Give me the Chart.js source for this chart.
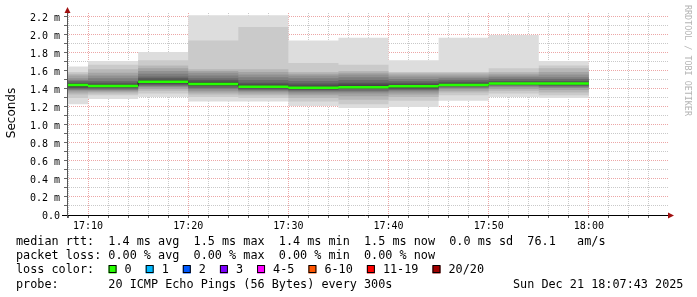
<!DOCTYPE html>
<html>
<head>
<title>SmokePing</title>
<script src="https://cdn.jsdelivr.net/npm/chart.js"></script>
<style>
  html, body { margin: 0; padding: 0; background: #fff; }
  #wrap { width: 697px; height: 297px; position: relative; }
</style>
</head>
<body>
<div id="wrap"><canvas id="smokeChart"></canvas></div>
<script>
// time axis in minutes after 17:00, one slot every 300s
const slotStarts = [5, 10, 15, 20, 25, 30, 35, 40, 45, 50, 55];
const slotLength = 5;
const medianRtt = [1.445, 1.433, 1.48, 1.455, 1.425, 1.415, 1.42, 1.43, 1.445, 1.46, 1.46];

// 20 sorted ping rtts (ms) per slot
const pings1705 = [1.23, 1.30, 1.34, 1.36, 1.38, 1.39, 1.40, 1.41, 1.42, 1.44, 1.45, 1.46, 1.47, 1.49, 1.50, 1.52, 1.55, 1.57, 1.59, 1.65];
const pings1710 = [1.29, 1.33, 1.35, 1.37, 1.38, 1.39, 1.40, 1.41, 1.42, 1.43, 1.44, 1.45, 1.47, 1.49, 1.52, 1.55, 1.58, 1.62, 1.67, 1.71];
const pings1715 = [1.31, 1.35, 1.38, 1.40, 1.42, 1.43, 1.44, 1.45, 1.46, 1.47, 1.49, 1.50, 1.52, 1.54, 1.57, 1.60, 1.63, 1.66, 1.72, 1.81];
const pings1720 = [1.26, 1.31, 1.34, 1.36, 1.38, 1.40, 1.41, 1.43, 1.44, 1.45, 1.46, 1.48, 1.50, 1.52, 1.55, 1.58, 1.60, 1.62, 1.94, 2.22];
const pings1725 = [1.26, 1.30, 1.33, 1.35, 1.37, 1.38, 1.39, 1.40, 1.41, 1.42, 1.43, 1.45, 1.47, 1.50, 1.53, 1.56, 1.59, 1.62, 2.09, 2.22];
const pings1730 = [1.21, 1.26, 1.30, 1.33, 1.35, 1.37, 1.38, 1.39, 1.40, 1.41, 1.42, 1.44, 1.46, 1.49, 1.52, 1.55, 1.57, 1.59, 1.69, 1.94];
const pings1735 = [1.19, 1.23, 1.28, 1.32, 1.35, 1.37, 1.38, 1.40, 1.41, 1.42, 1.43, 1.45, 1.47, 1.50, 1.53, 1.56, 1.58, 1.60, 1.67, 1.97];
const pings1740 = [1.20, 1.27, 1.31, 1.34, 1.36, 1.38, 1.39, 1.40, 1.41, 1.42, 1.44, 1.45, 1.47, 1.49, 1.51, 1.54, 1.56, 1.58, 1.59, 1.72];
const pings1745 = [1.27, 1.33, 1.36, 1.38, 1.40, 1.41, 1.42, 1.43, 1.44, 1.44, 1.45, 1.46, 1.48, 1.50, 1.52, 1.54, 1.56, 1.58, 1.59, 1.97];
const pings1750 = [1.31, 1.35, 1.38, 1.40, 1.42, 1.43, 1.44, 1.45, 1.45, 1.46, 1.46, 1.47, 1.49, 1.51, 1.53, 1.55, 1.57, 1.59, 1.63, 2.00];
const pings1755 = [1.30, 1.33, 1.36, 1.39, 1.41, 1.42, 1.43, 1.44, 1.45, 1.46, 1.46, 1.47, 1.49, 1.51, 1.53, 1.56, 1.59, 1.63, 1.66, 1.71];

const xLabelMinutes = [10, 20, 30, 40, 50, 60];
const xTickLabels = ['17:10', '17:20', '17:30', '17:40', '17:50', '18:00'];
const yTickLabels = ['0.0', '0.2 m', '0.4 m', '0.6 m', '0.8 m', '1.0 m', '1.2 m', '1.4 m', '1.6 m', '1.8 m', '2.0 m', '2.2 m'];

const lossLabels = ['0', '1', '2', '3', '4-5', '6-10', '11-19', '20/20'];
const lossColors = ['#26ff00', '#00b8ff', '#0059ff', '#7e00ff', '#ff00ff', '#ff5500', '#ff0000', '#a00000'];

const legendLines = [
  'median rtt:  1.4 ms avg  1.5 ms max  1.4 ms min  1.5 ms now  0.0 ms sd  76.1   am/s',
  'packet loss: 0.00 % avg  0.00 % max  0.00 % min  0.00 % now',
  'loss color:',
  'probe:       20 ICMP Echo Pings (56 Bytes) every 300s'
];
const stampText = 'Sun Dec 21 18:07:43 2025';

const allPings = [pings1705, pings1710, pings1715, pings1720, pings1725, pings1730,
                  pings1735, pings1740, pings1745, pings1750, pings1755];

// each value holds from its slot start to the next one
function stepData(vals) {
  const pts = slotStarts.map((t, i) => ({ x: t, y: vals[i] }));
  pts.push({ x: slotStarts[slotStarts.length - 1] + slotLength, y: vals[vals.length - 1] });
  return pts;
}

const datasets = [];
// smoke bands, same shading as smokeping: outer pairs light, inner pairs dark
for (let b = 1; b <= 10; b++) {
  const g = Math.floor(190 / 10 * (10 - b)) + 50;
  const col = 'rgb(' + g + ',' + g + ',' + g + ')';
  datasets.push({
    data: stepData(allPings.map(p => p[b - 1])),
    stepped: 'before', borderColor: 'rgba(0,0,0,0)', backgroundColor: 'rgba(0,0,0,0)',
    borderWidth: 0, pointRadius: 0, fill: false, order: 100 - b
  });
  datasets.push({
    data: stepData(allPings.map(p => p[20 - b])),
    stepped: 'before', borderColor: 'rgba(0,0,0,0)', backgroundColor: col,
    borderWidth: 0, pointRadius: 0, fill: '-1', order: 100 - b
  });
}

datasets.push({
  data: stepData(medianRtt), stepped: 'before',
  borderColor: '#202020', borderWidth: 1, pointRadius: 0, fill: false, order: 2
});

const medianSegs = [];
slotStarts.forEach((t, i) => {
  medianSegs.push({ x: t, y: medianRtt[i] }, { x: t + slotLength, y: medianRtt[i] }, { x: t + slotLength, y: null });
});
datasets.push({
  data: medianSegs, borderColor: lossColors[0], borderWidth: 2.5,
  pointRadius: 0, fill: false, spanGaps: false, order: 1
});

const majorGrid = 'rgba(200,0,0,0.35)';
const minorGrid = 'rgba(120,120,120,0.4)';

const decorations = {
  id: 'decorations',
  afterDraw(chart) {
    const ctx = chart.ctx;
    const a = chart.chartArea;
    ctx.save();

    // axes
    ctx.strokeStyle = '#000';
    ctx.lineWidth = 1;
    ctx.beginPath();
    ctx.moveTo(62, a.bottom + 0.5);
    ctx.lineTo(a.right + 1, a.bottom + 0.5);
    ctx.stroke();
    ctx.strokeStyle = '#555';
    ctx.beginPath();
    ctx.moveTo(a.left + 0.5, a.bottom + 3);
    ctx.lineTo(a.left + 0.5, 11);
    ctx.stroke();

    // arrows
    ctx.fillStyle = '#a01010';
    ctx.beginPath();
    ctx.moveTo(a.left + 0.5, 7);
    ctx.lineTo(a.left - 2.5, 13);
    ctx.lineTo(a.left + 3.5, 13);
    ctx.closePath();
    ctx.fill();
    ctx.beginPath();
    ctx.moveTo(a.right + 6, a.bottom + 0.5);
    ctx.lineTo(a.right, a.bottom - 2.5);
    ctx.lineTo(a.right, a.bottom + 3.5);
    ctx.closePath();
    ctx.fill();

    // y axis title
    ctx.fillStyle = '#000';
    ctx.font = '12px "DejaVu Sans"';
    ctx.textAlign = 'center';
    ctx.textBaseline = 'alphabetic';
    ctx.save();
    ctx.translate(15, 113);
    ctx.rotate(-Math.PI / 2);
    ctx.fillText('Seconds', 0, 0);
    ctx.restore();

    // watermark
    ctx.save();
    ctx.fillStyle = '#b4b4b4';
    ctx.font = '8.4px "DejaVu Sans Mono"';
    ctx.textAlign = 'left';
    ctx.translate(685, 5);
    ctx.rotate(Math.PI / 2);
    ctx.fillText('RRDTOOL / TOBI OETIKER', 0, 0);
    ctx.restore();

    // legend
    const cw = 7.12;
    ctx.font = '11.8px "DejaVu Sans Mono"';
    ctx.textAlign = 'left';
    ctx.fillStyle = '#000';
    const base = [245, 259, 273, 287.5];
    legendLines.forEach((s, i) => ctx.fillText(s, 16, base[i]));
    ctx.fillText(stampText, 513, base[3]);

    let bx = 16 + 13 * cw;
    lossLabels.forEach((lab, i) => {
      ctx.fillStyle = lossColors[i];
      ctx.fillRect(bx, 265.5, 8, 8);
      ctx.strokeStyle = '#000';
      ctx.strokeRect(bx + 0.5, 265.5, 7, 7);
      ctx.fillStyle = '#000';
      ctx.fillText(lab, bx + 16, base[2]);
      bx = bx + 16 + lab.length * cw + 14;
    });
    ctx.restore();
  }
};

new Chart(document.getElementById('smokeChart'), {
  type: 'line',
  data: { datasets: datasets },
  options: {
    animation: false,
    responsive: true,
    maintainAspectRatio: false,
    layout: { padding: { left: 0, right: 29, top: 13, bottom: 0 } },
    plugins: { legend: { display: false }, tooltip: { enabled: false } },
    scales: {
      x: {
        type: 'linear', min: 7.9, max: 67.9, z: 1,
        afterFit: s => { s.height = 82; },
        afterBuildTicks: s => {
          const t = [];
          for (let m = 8; m <= 66; m += 2) t.push({ value: m });
          s.ticks = t;
        },
        grid: {
          color: c => (c.tick && c.tick.value % 10 === 0) ? majorGrid : minorGrid,
          tickColor: '#666', tickLength: 3, tickBorderDash: []
        },
        border: { display: false, dash: [1, 1] },
        ticks: {
          autoSkip: false, maxRotation: 0, padding: 2,
          color: '#000', font: { family: 'DejaVu Sans Mono', size: 10 },
          callback: v => {
            const k = xLabelMinutes.indexOf(v);
            return k >= 0 ? xTickLabels[k] : '';
          }
        }
      },
      y: {
        min: 0, max: 2.2444, z: 1,
        afterFit: s => { s.width = 67; },
        afterBuildTicks: s => {
          const t = [];
          for (let i = 0; i <= 22; i++) t.push({ value: i / 10 });
          s.ticks = t;
        },
        grid: {
          color: c => (c.tick && Math.round(c.tick.value * 10) % 2 === 0) ? majorGrid : minorGrid,
          tickColor: '#666', tickLength: 3, tickBorderDash: []
        },
        border: { display: false, dash: [1, 1] },
        ticks: {
          autoSkip: false, padding: 4, labelOffset: 1,
          color: '#000', font: { family: 'DejaVu Sans Mono', size: 10 },
          callback: v => {
            const n = Math.round(v * 10);
            return n % 2 === 0 ? yTickLabels[n / 2] : '';
          }
        }
      }
    }
  },
  plugins: [decorations]
});
</script>
</body>
</html>
